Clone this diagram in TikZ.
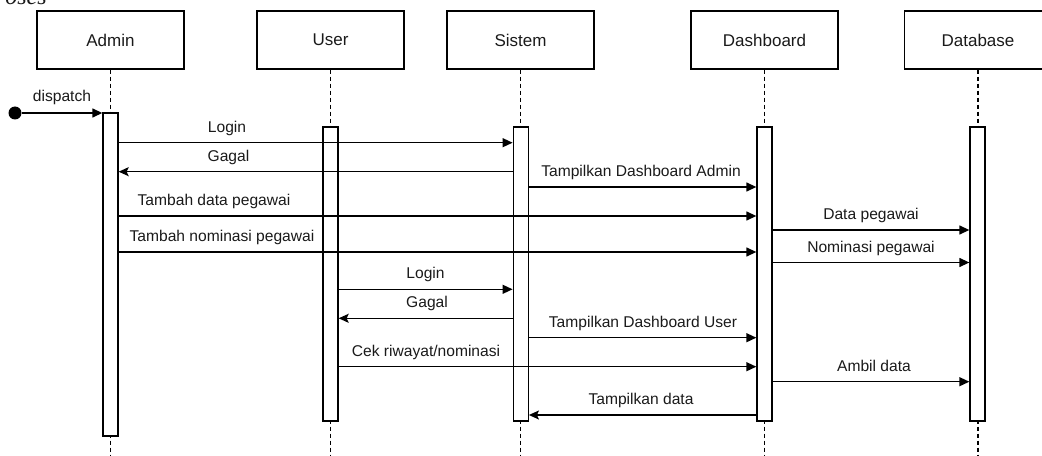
\documentclass[tikz,border=0pt]{standalone}
\usepackage{fontspec}
\setmainfont{Liberation Sans}
\newfontfamily\captionserif{Liberation Serif}
\usetikzlibrary{arrows.meta}
\definecolor{ink}{HTML}{1A1A1A}

\begin{document}
\begin{tikzpicture}[x=0.75pt,y=-0.75pt,
  actor/.style={draw, line width=1pt, minimum width=110.25pt, minimum height=43.5pt,
    inner sep=0pt, font=\fontsize{12.75pt}{15pt}\selectfont, text=ink},
  bar/.style={draw, fill=white, line width=1pt, minimum width=11.25pt, inner sep=0pt},
  life/.style={line width=0.9pt, dash pattern=on 3pt off 2.25pt},
  msg/.style={line width=1pt, -{Triangle[length=7.5pt,width=6.75pt]}},
  ret/.style={line width=1pt, -{Stealth[length=7.5pt,width=6.75pt,inset=1.5pt]}},
  lbl/.style={anchor=base, inner sep=0pt, font=\fontsize{11.7pt}{14pt}\selectfont, text=ink}]

\useasboundingbox (0,0) rectangle (1042,456);

% heading fragment at the top edge
\node[anchor=base east, inner sep=0pt, text=ink,
  font=\captionserif\itshape\fontsize{18pt}{20pt}\selectfont] (cap) at (47,5) {oses};

% participants
\node[actor] (hA) at (110.5,40) {Admin};
\node[actor] (hU) at (330.5,40) {User};
\node[actor] (hS) at (520.5,40) {Sistem};
\node[actor] (hD) at (764.5,40) {Dashboard};
\node[actor] (hB) at (978,40) {Database};

% lifelines
\coordinate (bot) at (0,456);
\foreach \h in {hA,hU,hS,hD,hB}
  \draw[life] (\h.south) -- (\h.south |- bot);

% activation bars
\node[bar, minimum height=242.25pt] (bA) at (110.5,274.5) {};
\node[bar, minimum height=220.5pt] (bU) at (330.5,274) {};
\node[bar, minimum height=220.5pt] (bS) at (520.75,274) {};
\node[bar, minimum height=220.5pt] (bD) at (764.5,274) {};
\node[bar, minimum height=220.5pt] (bB) at (977.5,274) {};

% found message
\node[circle, fill=black, minimum size=9.75pt, inner sep=0pt] (start) at (15,113) {};
\draw[msg] (start) -- (start -| bA.west);
\node[lbl] (ldisp) at (62,102) {dispatch};

% message rows
\coordinate (r1) at (0,142.7);
\coordinate (r2) at (0,171.7);
\coordinate (r3) at (0,187);
\coordinate (r4) at (0,216);
\coordinate (r5) at (0,230);
\coordinate (r6) at (0,252);
\coordinate (r7) at (0,262.5);
\coordinate (r8) at (0,289.3);
\coordinate (r9) at (0,318.3);
\coordinate (r10) at (0,337.7);
\coordinate (r11) at (0,366.7);
\coordinate (r12) at (0,381.7);
\coordinate (r13) at (0,415);

\draw[msg] (bA.east |- r1) -- (bS.west |- r1);
\node[lbl] (l1) at (227,132.2) {Login};

\draw[ret] (bS.west |- r2) -- (bA.east |- r2);
\node[lbl] (l2) at (228.5,161.2) {Gagal};

\draw[msg] (bS.east |- r3) -- (bD.west |- r3);
\node[lbl] (l3) at (641,176.5) {Tampilkan Dashboard Admin};

\draw[msg] (bA.east |- r4) -- (bD.west |- r4);
\node[lbl] (l4) at (214,205.5) {Tambah data pegawai};

\draw[msg] (bD.east |- r5) -- (bB.west |- r5);
\node[lbl] (l5) at (871,219.5) {Data pegawai};

\draw[msg] (bA.east |- r6) -- (bD.west |- r6);
\node[lbl] (l6) at (222,241.5) {Tambah nominasi pegawai};

\draw[msg] (bD.east |- r7) -- (bB.west |- r7);
\node[lbl] (l7) at (871,252) {Nominasi pegawai};

\draw[msg] (bU.east |- r8) -- (bS.west |- r8);
\node[lbl] (l8) at (425.5,278.8) {Login};

\draw[ret] (bS.west |- r9) -- (bU.east |- r9);
\node[lbl] (l9) at (427,307.8) {Gagal};

\draw[msg] (bS.east |- r10) -- (bD.west |- r10);
\node[lbl] (l10) at (643,327.2) {Tampilkan Dashboard User};

\draw[msg] (bU.east |- r11) -- (bD.west |- r11);
\node[lbl] (l11) at (426,356.2) {Cek riwayat/nominasi};

\draw[msg] (bD.east |- r12) -- (bB.west |- r12);
\node[lbl] (l12) at (874,371.2) {Ambil data};

\draw[ret] (bD.west |- r13) -- (bS.east |- r13);
\node[lbl] (l13) at (641,404.5) {Tampilkan data};

\end{tikzpicture}
\end{document}
